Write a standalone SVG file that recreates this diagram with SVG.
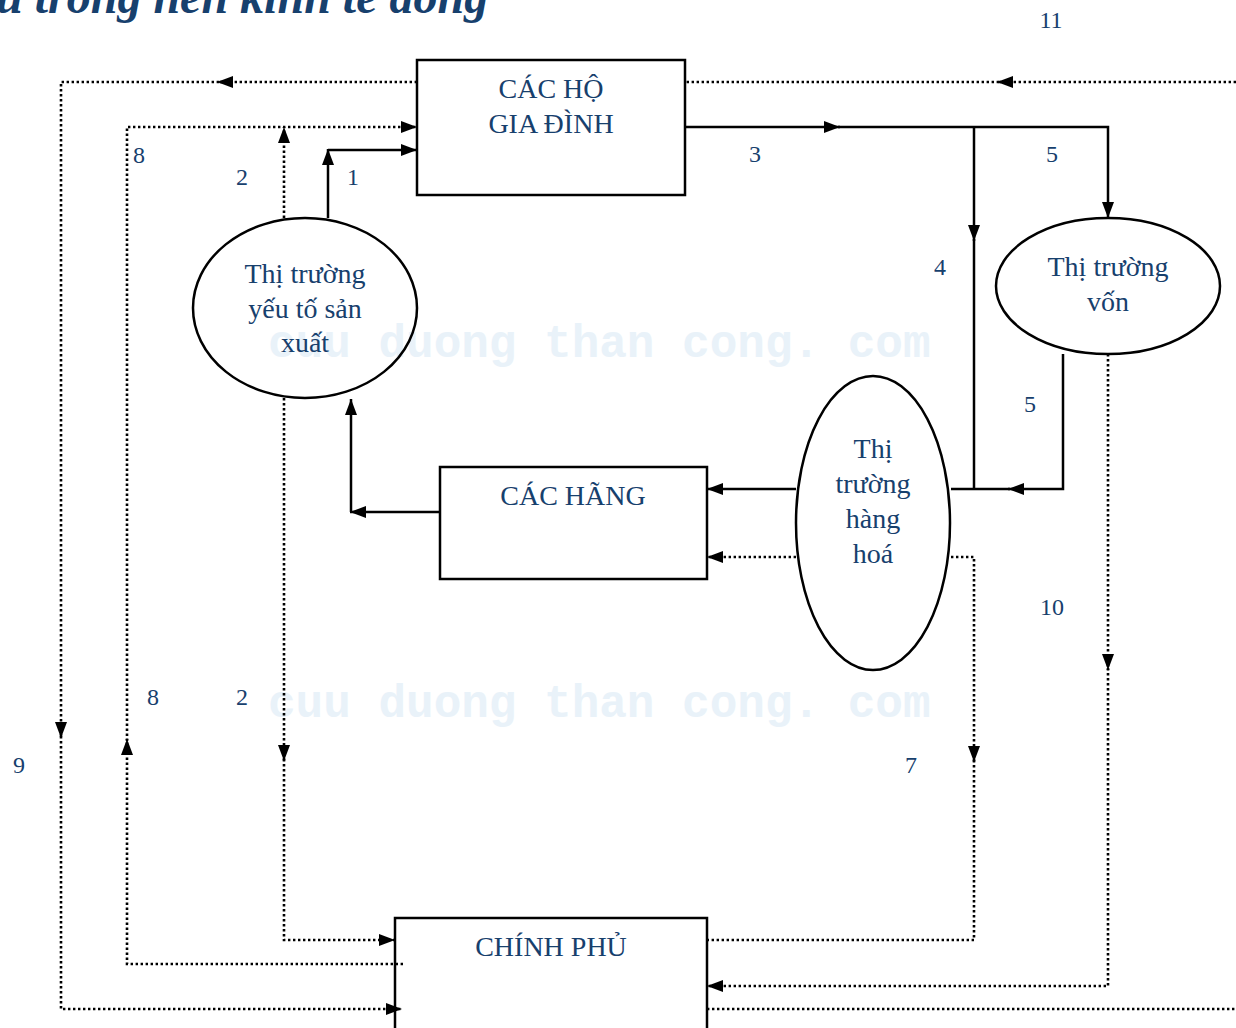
<svg xmlns="http://www.w3.org/2000/svg" width="1236" height="1028" viewBox="0 0 1236 1028">
<style>
.bg{fill:#ffffff}
.box{fill:none;stroke:#000;stroke-width:2.5}
.t{font-family:"Liberation Serif","Times New Roman",serif;fill:#17406D;text-anchor:middle}
.lbl{font-size:28px}
.num{font-size:24px}
.title{font-family:"Liberation Serif","Times New Roman",serif;font-weight:bold;font-style:italic;font-size:48px;fill:#17406D}
.wm{font-family:"Liberation Mono","DejaVu Sans Mono",monospace;font-weight:bold;font-size:46px;fill:#E9F2F9}
.s{fill:none;stroke:#000;stroke-width:2.5}
.d{fill:none;stroke:#000;stroke-width:2.6;stroke-dasharray:2.4 2.6}
</style>
<defs>
<marker id="ah" viewBox="0 0 16 12" refX="16" refY="6" markerWidth="16" markerHeight="12" markerUnits="userSpaceOnUse" orient="auto">
<path d="M0,0 L16,6 L0,12 z" fill="#000"/>
</marker>
</defs>
<rect class="bg" x="0" y="0" width="1236" height="1028"/>
<text class="title" x="-4" y="13">u trong nền kinh tế đóng</text>
<text class="wm" x="268" y="357">cuu duong than cong. com</text>
<text class="wm" x="268" y="717">cuu duong than cong. com</text>

<g id="connectors">
<path class="s" d="M685,127 H840" marker-end="url(#ah)"/>
<path class="s" d="M838,127 H1108 V218" marker-end="url(#ah)"/>
<path class="s" d="M974,127 V241" marker-end="url(#ah)"/>
<path class="s" d="M974,239 V489"/>
<path class="s" d="M1063,354 V489 H1008" marker-end="url(#ah)"/>
<path class="s" d="M1010,489 H951"/>
<path class="s" d="M796,489 H707" marker-end="url(#ah)"/>
<path class="s" d="M440,512 H350" marker-end="url(#ah)"/>
<path class="s" d="M351,512 V399" marker-end="url(#ah)"/>
<path class="s" d="M328,218 V149" marker-end="url(#ah)"/>
<path class="s" d="M328,150 H417" marker-end="url(#ah)"/>

<path class="d" d="M417,82 H217" marker-end="url(#ah)"/>
<path class="d" d="M219,82 H61 V738" marker-end="url(#ah)"/>
<path class="d" d="M61,736 V1009 H402" marker-end="url(#ah)"/>
<path class="d" d="M1236,82 H997" marker-end="url(#ah)"/>
<path class="d" d="M999,82 H685"/>
<path class="d" d="M403,964 H127 V739" marker-end="url(#ah)"/>
<path class="d" d="M127,741 V127 H417" marker-end="url(#ah)"/>
<path class="d" d="M284,218 V127" marker-end="url(#ah)"/>
<path class="d" d="M284,398 V761" marker-end="url(#ah)"/>
<path class="d" d="M284,759 V940 H395" marker-end="url(#ah)"/>
<path class="d" d="M951,557 H974 V762" marker-end="url(#ah)"/>
<path class="d" d="M974,760 V940 H707"/>
<path class="d" d="M796,557 H707" marker-end="url(#ah)"/>
<path class="d" d="M1108,354 V670" marker-end="url(#ah)"/>
<path class="d" d="M1108,668 V986 H707" marker-end="url(#ah)"/>
<path class="d" d="M707,1009 H1236"/>
</g>

<g id="ho-gia-dinh">
<rect class="box" x="417" y="60" width="268" height="135"/>
<text class="t lbl" x="551" y="98">CÁC HỘ</text>
<text class="t lbl" x="551" y="133">GIA ĐÌNH</text>
</g>
<g id="cac-hang">
<rect class="box" x="440" y="467" width="267" height="112"/>
<text class="t lbl" x="573" y="505">CÁC HÃNG</text>
</g>
<g id="chinh-phu">
<rect class="box" x="395" y="918" width="312" height="120"/>
<text class="t lbl" x="551" y="956">CHÍNH PHỦ</text>
</g>
<g id="tt-yeu-to">
<ellipse class="box" cx="305" cy="308" rx="112" ry="90"/>
<text class="t lbl" x="305" y="283">Thị trường</text>
<text class="t lbl" x="305" y="318">yếu tố sản</text>
<text class="t lbl" x="305" y="352">xuất</text>
</g>
<g id="tt-von">
<ellipse class="box" cx="1108" cy="286" rx="112" ry="68"/>
<text class="t lbl" x="1108" y="276">Thị trường</text>
<text class="t lbl" x="1108" y="311">vốn</text>
</g>
<g id="tt-hang-hoa">
<ellipse class="box" cx="873" cy="523" rx="77" ry="147"/>
<text class="t lbl" x="873" y="458">Thị</text>
<text class="t lbl" x="873" y="493">trường</text>
<text class="t lbl" x="873" y="528">hàng</text>
<text class="t lbl" x="873" y="563">hoá</text>
</g>

<g id="labels">
<text class="t num" x="1051" y="28">11</text>
<text class="t num" x="139" y="163">8</text>
<text class="t num" x="242" y="185">2</text>
<text class="t num" x="353" y="185">1</text>
<text class="t num" x="755" y="162">3</text>
<text class="t num" x="1052" y="162">5</text>
<text class="t num" x="940" y="275">4</text>
<text class="t num" x="1030" y="412">5</text>
<text class="t num" x="1052" y="615">10</text>
<text class="t num" x="153" y="705">8</text>
<text class="t num" x="242" y="705">2</text>
<text class="t num" x="19" y="773">9</text>
<text class="t num" x="911" y="773">7</text>
</g>
</svg>
